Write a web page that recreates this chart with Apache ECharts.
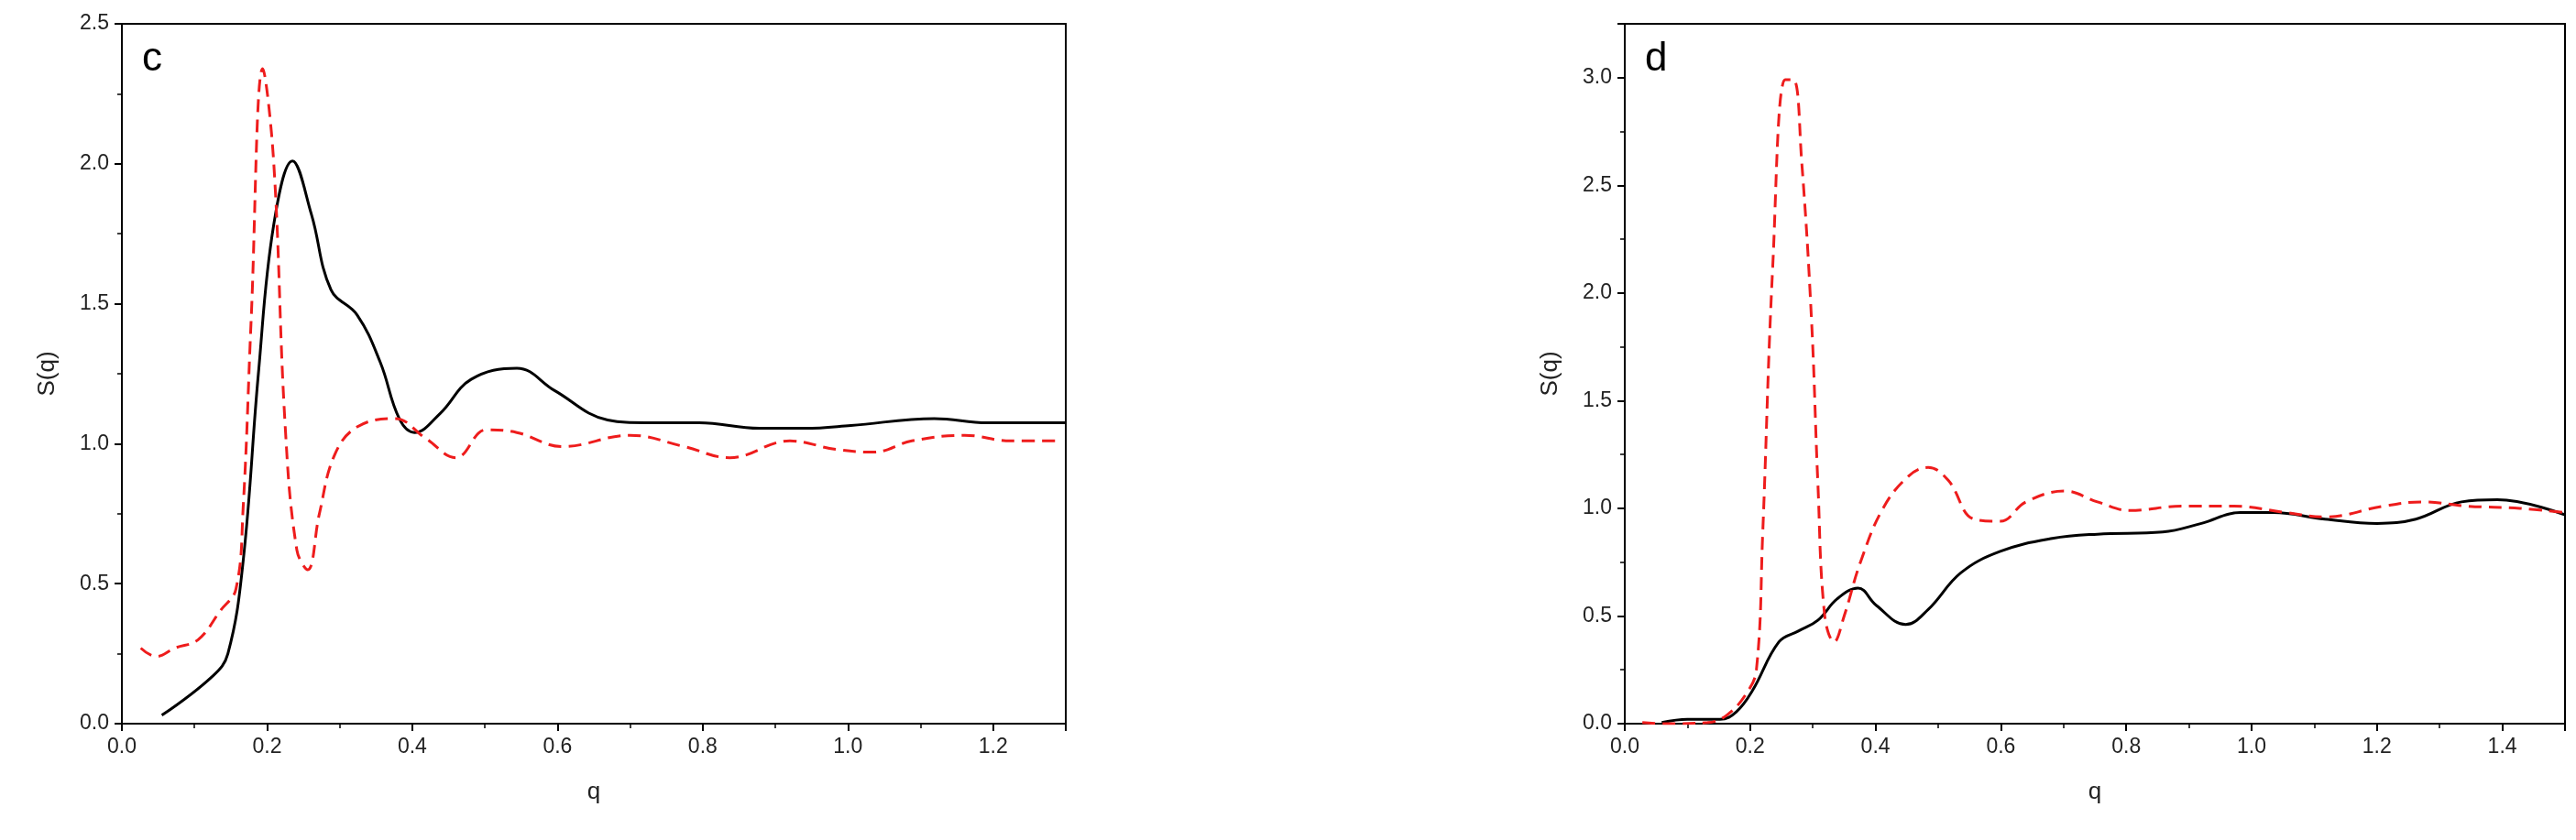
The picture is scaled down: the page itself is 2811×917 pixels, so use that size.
<!DOCTYPE html>
<html>
<head>
<meta charset="utf-8">
<script src="https://cdn.jsdelivr.net/npm/echarts@6/dist/echarts.min.js"></script>
<style>html,body{margin:0;padding:0;background:#fff}#chart{width:2811px;height:917px}</style>
</head>
<body>
<div id="chart"></div>
<script>
"use strict";
// panel c
var cBlack = [[0.055,0.03],[0.125,0.17],[0.146,0.25],[0.167,0.58],[0.188,1.25],[0.209,1.78],[0.235,2.01],[0.261,1.82],[0.288,1.55],[0.324,1.46],[0.356,1.29],[0.382,1.09],[0.403,1.04],[0.439,1.11],[0.481,1.23],[0.544,1.27],[0.596,1.19],[0.669,1.085],[0.721,1.075],[0.795,1.075],[0.878,1.055],[0.941,1.055],[1.004,1.065],[1.119,1.09],[1.192,1.075],[1.3,1.075]];
var cRed = [[0.026,0.27],[0.047,0.24],[0.073,0.27],[0.105,0.30],[0.136,0.405],[0.157,0.48],[0.167,0.77],[0.178,1.44],[0.194,2.34],[0.209,2.01],[0.225,1.06],[0.241,0.62],[0.256,0.55],[0.272,0.75],[0.293,0.96],[0.324,1.06],[0.376,1.09],[0.418,1.02],[0.46,0.95],[0.502,1.05],[0.544,1.04],[0.607,0.99],[0.7,1.03],[0.774,0.99],[0.837,0.95],[0.92,1.01],[0.983,0.98],[1.035,0.97],[1.088,1.01],[1.161,1.03],[1.224,1.01],[1.286,1.01]];
// panel d
var dBlack = [[0.059,0.005],[0.1,0.02],[0.152,0.02],[0.178,0.055],[0.204,0.155],[0.246,0.38],[0.277,0.43],[0.308,0.48],[0.339,0.58],[0.372,0.63],[0.401,0.55],[0.448,0.46],[0.484,0.53],[0.536,0.70],[0.599,0.80],[0.682,0.86],[0.754,0.88],[0.858,0.89],[0.92,0.93],[0.982,0.98],[1.034,0.98],[1.117,0.95],[1.2,0.93],[1.262,0.95],[1.335,1.03],[1.392,1.04],[1.5,0.97]];
var dRed = [[0.028,0.005],[0.059,0],[0.132,0.005],[0.163,0.04],[0.194,0.14],[0.21,0.25],[0.22,0.88],[0.236,2.12],[0.256,2.99],[0.269,2.99],[0.282,2.62],[0.298,1.87],[0.308,1.12],[0.319,0.50],[0.334,0.38],[0.35,0.50],[0.376,0.75],[0.412,1.0],[0.453,1.15],[0.484,1.19],[0.516,1.13],[0.557,0.95],[0.599,0.94],[0.64,1.03],[0.702,1.08],[0.754,1.03],[0.806,0.99],[0.889,1.01],[0.972,1.01],[1.055,0.98],[1.117,0.96],[1.21,1.01],[1.273,1.03],[1.345,1.01],[1.428,1.0],[1.5,0.98]];

var font = 'Liberation Sans, Arial, sans-serif';
var axLine = { show: true, lineStyle: { color: '#000', width: 2 } };
function fmt(v){ return v.toFixed(1); }
function xAx(i, max){
	return { type: 'value', gridIndex: i, min: 0, max: max, interval: 0.2, name: 'q', nameLocation: 'middle', nameGap: 62,
		nameTextStyle: { fontSize: 26, fontFamily: font, color: '#222' },
		axisLine: axLine, axisTick: { length: 8, lineStyle: { width: 2, color: '#000' } },
		minorTick: { show: true, splitNumber: 2, length: 5, lineStyle: { width: 1.5, color: '#000' } },
		splitLine: { show: false }, axisLabel: { formatter: fmt, showMaxLabel: false, color: '#222', fontSize: 23, fontFamily: font, margin: 14 } };
}
function yAx(i, max, showMax){
	return { type: 'value', gridIndex: i, min: 0, max: max, interval: 0.5, name: 'S(q)', nameLocation: 'middle', nameGap: 68,
		nameTextStyle: { fontSize: 26, fontFamily: font, color: '#222' },
		axisLine: axLine, axisTick: { length: 8, lineStyle: { width: 2, color: '#000' } },
		minorTick: { show: true, splitNumber: 2, length: 5, lineStyle: { width: 1.5, color: '#000' } },
		splitLine: { show: false }, axisLabel: { formatter: fmt, showMaxLabel: showMax, color: '#222', fontSize: 23, fontFamily: font, margin: 14 } };
}
function ser(i, data, red){
	return { type: 'line', xAxisIndex: i, yAxisIndex: i, data: data, smooth: 0.4, showSymbol: false,
		lineStyle: red ? { color: '#ee1c1c', width: 3, type: [14, 8] } : { color: '#000', width: 3 } };
}
var chart = echarts.init(document.getElementById('chart'));
chart.setOption({
	animation: false,
	title: [
		{ text: 'c', left: 150, top: 38, textStyle: { fontSize: 44, fontWeight: 'normal', fontFamily: font, color: '#000' } },
		{ text: 'd', left: 1790, top: 38, textStyle: { fontSize: 44, fontWeight: 'normal', fontFamily: font, color: '#000' } }
	],
	grid: [
		{ left: 133, top: 26, width: 1030, height: 764, show: true, borderColor: '#000', borderWidth: 2 },
		{ left: 1773, top: 26, width: 1026, height: 764, show: true, borderColor: '#000', borderWidth: 2 }
	],
	xAxis: [xAx(0, 1.3), xAx(1, 1.5)],
	yAxis: [yAx(0, 2.5, true), yAx(1, 3.25, false)],
	series: [ser(0, cBlack, false), ser(0, cRed, true), ser(1, dBlack, false), ser(1, dRed, true)]
});
</script>
</body>
</html>
